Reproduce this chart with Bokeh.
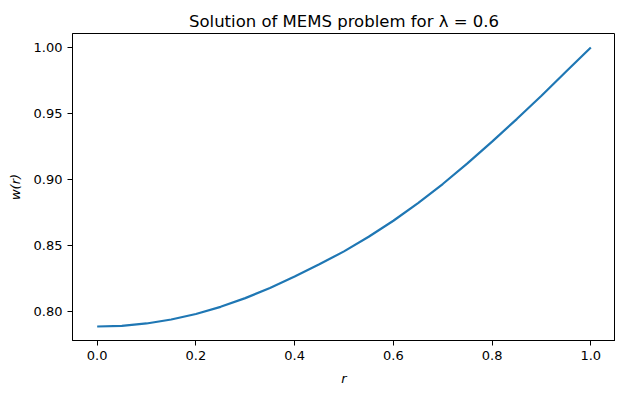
from bokeh.plotting import figure
from bokeh.models import FixedTicker, PrintfTickFormatter, Range1d
from bokeh.embed import file_html
from bokeh.resources import INLINE

# data
r_vals = [0.00, 0.05, 0.10, 0.15, 0.20, 0.25, 0.30, 0.35, 0.40, 0.45, 0.50,
          0.55, 0.60, 0.65, 0.70, 0.75, 0.80, 0.85, 0.90, 0.95, 1.00]
w_vals = [0.7887, 0.7892, 0.7910, 0.7940, 0.7982, 0.8036, 0.8102, 0.8179,
          0.8266, 0.8358, 0.8456, 0.8567, 0.8688, 0.8822, 0.8966, 0.9122,
          0.9287, 0.9458, 0.9635, 0.9818, 1.0000]
x_ticks = [0.0, 0.2, 0.4, 0.6, 0.8, 1.0]
y_ticks = [0.80, 0.85, 0.90, 0.95, 1.00]

FONT = "DejaVu Sans"

p = figure(frame_width=543, frame_height=307, output_backend="svg",
           toolbar_location=None,
           x_range=Range1d(-0.05, 1.05), y_range=Range1d(0.7781, 1.0106),
           min_border_left=72, min_border_right=0, min_border_top=33,
           min_border_bottom=46)

p.title.text = "Solution of MEMS problem for λ = 0.6"
p.title.align = "center"
p.title.text_font = FONT
p.title.text_font_size = "16.5px"
p.title.text_font_style = "normal"
p.title.text_color = "black"
p.title.standoff = 6

p.line(r_vals, w_vals, line_color="#1f77b4", line_width=2.2)

p.xgrid.visible = False
p.ygrid.visible = False
p.outline_line_color = "black"
p.outline_line_alpha = 1
p.outline_line_width = 1
p.background_fill_color = "white"
p.border_fill_color = "white"

p.xaxis.ticker = FixedTicker(ticks=x_ticks)
p.yaxis.ticker = FixedTicker(ticks=y_ticks)
p.xaxis.formatter = PrintfTickFormatter(format="%.1f")
p.yaxis.formatter = PrintfTickFormatter(format="%.2f")
p.xaxis.axis_label = "r"
p.yaxis.axis_label = "w(r)"

for ax in (p.xaxis, p.yaxis):
    ax.axis_line_color = "black"
    ax.major_tick_line_color = "black"
    ax.major_tick_out = 5
    ax.major_tick_in = 0
    ax.minor_tick_line_color = None
    ax.major_label_text_font = FONT
    ax.major_label_text_font_size = "13px"
    ax.major_label_text_color = "black"
    ax.major_label_standoff = 5
    ax.axis_label_text_font = FONT
    ax.axis_label_text_font_size = "13px"
    ax.axis_label_text_font_style = "italic"
    ax.axis_label_text_color = "black"
    ax.axis_label_standoff = 8

open("out.html", "w").write(file_html(p, INLINE))
